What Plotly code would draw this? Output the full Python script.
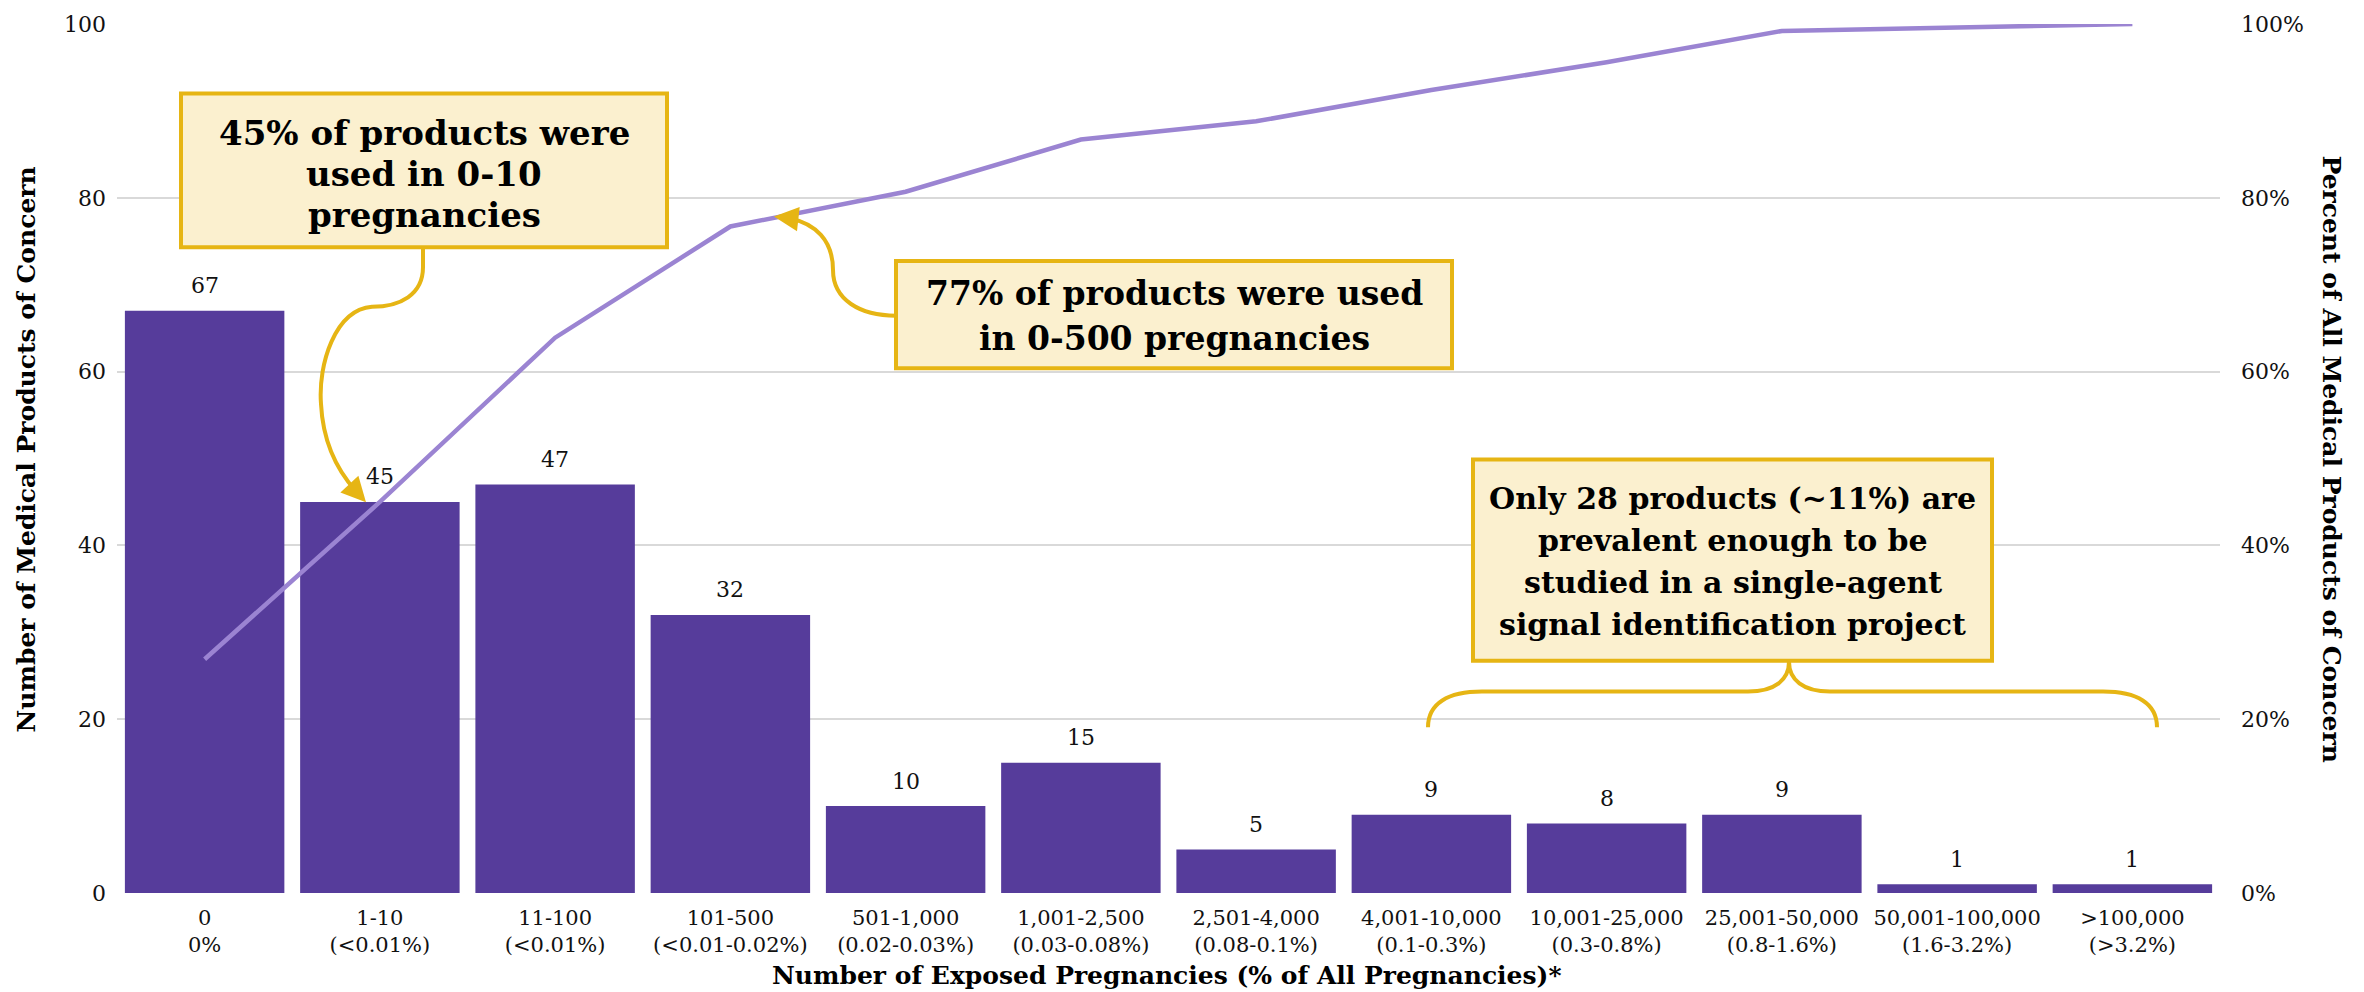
import plotly.graph_objects as go

# ---------------- data ----------------
categories = ["0<br>0%", "1-10<br>(<0.01%)", "11-100<br>(<0.01%)", "101-500<br>(<0.01-0.02%)",
              "501-1,000<br>(0.02-0.03%)", "1,001-2,500<br>(0.03-0.08%)", "2,501-4,000<br>(0.08-0.1%)",
              "4,001-10,000<br>(0.1-0.3%)", "10,001-25,000<br>(0.3-0.8%)", "25,001-50,000<br>(0.8-1.6%)",
              "50,001-100,000<br>(1.6-3.2%)", ">100,000<br>(>3.2%)"]
counts = [67, 45, 47, 32, 10, 15, 5, 9, 8, 9, 1, 1]
cumulative_pct = [26.9, 45.0, 63.9, 76.7, 80.7, 86.7, 88.8, 92.4, 95.6, 99.2, 99.6, 100.0]
y_ticks = [0, 20, 40, 60, 80, 100]
y_tick_labels = ["0", "20", "40", "60", "80", "100"]
y2_tick_labels = ["0%", "20%", "40%", "60%", "80%", "100%"]

# ---------------- style ----------------
W, H = 2364, 992
L, R, T, B = 117, 144, 17, 99
PW, PH = W - L - R, H - T - B
BAR = "#563C9B"
LINE = "#9B84D2"
GOLD = "#E6B514"
FILL = "#FBF0CF"
GRID = "#D9D9D9"
SERIF = "DejaVu Serif"
TXT = "#111111"


def px(X):
    return (X - L) / PW


def py(Y):
    return (H - B - Y) / PH


fig = go.Figure()
fig.add_trace(go.Bar(x=categories, y=counts, marker=dict(color=BAR, line=dict(width=0)),
                     hoverinfo="skip", showlegend=False))
fig.add_trace(go.Scatter(x=categories, y=cumulative_pct, yaxis="y2", mode="lines",
                         line=dict(color=LINE, width=4.5), hoverinfo="skip", showlegend=False))

annotations = []
# data labels
for c, v in zip(categories, counts):
    annotations.append(dict(x=c, y=v, xref="x", yref="y", text=str(v), showarrow=False,
                            yshift=25, font=dict(family=SERIF, size=22, color=TXT)))

shapes = []
# boxes
boxes = [
    ((181, 87, 667, 242), ["45% of products were", "used in 0-10", "pregnancies"], [127, 168, 210], 34),
    ((896, 256, 1452, 364), ["77% of products were used", "in 0-500 pregnancies"], [289, 334], 33),
    ((1473, 456, 1992, 659), ["Only 28 products (~11%) are", "prevalent enough to be",
                               "studied in a single-agent", "signal identification project"],
     [495, 538, 580, 622], 30),
]
for (x0, y0, x1, y1), lines, ys, fs in boxes:
    shapes.append(dict(type="rect", xref="paper", yref="paper", x0=px(x0), x1=px(x1),
                       y0=py(y1), y1=py(y0), fillcolor=FILL, line=dict(color=GOLD, width=4),
                       layer="above"))
    cx = (x0 + x1) / 2
    for t, yy in zip(lines, ys):
        annotations.append(dict(x=px(cx), y=py(yy), xref="paper", yref="paper", text="<b>" + t + "</b>",
                                showarrow=False, xanchor="center", yanchor="middle",
                                font=dict(family=SERIF, size=fs, color="#000000")))


def path(points_cmds):
    out = []
    for cmd, pts in points_cmds:
        coords = " ".join(f"{px(a):.5f},{py(b):.5f}" for a, b in pts)
        out.append(f"{cmd} {coords}")
    return " ".join(out)


# connector 1
p1 = path([("M", [(423, 242)]), ("L", [(423, 262)]),
           ("C", [(423, 290), (400, 302), (372, 302)]),
           ("C", [(335, 305), (318, 360), (321, 400)]),
           ("C", [(323, 440), (338, 468), (356, 488)])])
# connector 2
p2 = path([("M", [(896, 311)]),
           ("C", [(860, 311), (833, 295), (833, 265)]),
           ("C", [(833, 235), (815, 218), (790, 213)])])
# brace
p3 = path([("M", [(1428, 726)]),
           ("C", [(1428, 702), (1448, 690), (1482, 690)]),
           ("L", [(1748, 690)]),
           ("C", [(1775, 690), (1789, 678), (1789, 660)]),
           ("C", [(1789, 678), (1803, 690), (1830, 690)]),
           ("L", [(2103, 690)]),
           ("C", [(2137, 690), (2157, 702), (2157, 726)])])
for p in (p1, p2, p3):
    shapes.append(dict(type="path", xref="paper", yref="paper", path=p,
                       line=dict(color=GOLD, width=4), layer="above"))

# arrowheads
annotations.append(dict(x=px(366), y=py(499), xref="paper", yref="paper", text="", showarrow=True,
                        ax=-12, ay=-13, arrowhead=2, arrowsize=1.4, arrowwidth=3.5, arrowcolor=GOLD))
annotations.append(dict(x=px(774), y=py(211), xref="paper", yref="paper", text="", showarrow=True,
                        ax=18, ay=2, arrowhead=2, arrowsize=1.4, arrowwidth=3.5, arrowcolor=GOLD))

# axis titles
annotations.append(dict(x=px(27), y=py(446), xref="paper", yref="paper", textangle=-90,
                        xanchor="center", yanchor="middle",
                        text="<b>Number of Medical Products of Concern</b>", showarrow=False,
                        font=dict(family=SERIF, size=25, color="#000000")))
annotations.append(dict(x=px(2331), y=py(455), xref="paper", yref="paper", textangle=90,
                        xanchor="center", yanchor="middle",
                        text="<b>Percent of All Medical Products of Concern</b>", showarrow=False,
                        font=dict(family=SERIF, size=25, color="#000000")))
annotations.append(dict(x=px(1167), y=py(976), xref="paper", yref="paper",
                        xanchor="center", yanchor="middle",
                        text="<b>Number of Exposed Pregnancies (% of All Pregnancies)*</b>", showarrow=False,
                        font=dict(family=SERIF, size=25, color="#000000")))

fig.update_layout(
    width=W, height=H, autosize=False,
    margin=dict(l=L, r=R, t=T, b=B, pad=0),
    paper_bgcolor="white", plot_bgcolor="white",
    bargap=0.09,
    font=dict(family=SERIF, size=20, color=TXT),
    xaxis=dict(type="category", showgrid=False, showline=False, zeroline=False, ticks="",
               ticklabelstandoff=10,
               tickfont=dict(family=SERIF, size=21, color=TXT), fixedrange=True),
    yaxis=dict(range=[0, 100], tickmode="array", tickvals=y_ticks, ticktext=y_tick_labels,
               showgrid=True, gridcolor=GRID, gridwidth=2,
               zeroline=False, showline=False, ticks="", ticklabelstandoff=10,
               tickfont=dict(family=SERIF, size=22, color=TXT)),
    yaxis2=dict(range=[0, 100], tickmode="array", tickvals=y_ticks, ticktext=y2_tick_labels,
                overlaying="y", side="right",
                showgrid=False, zeroline=False, showline=False, ticks="", ticklabelstandoff=20,
                tickfont=dict(family=SERIF, size=22, color=TXT)),
    annotations=annotations,
    shapes=shapes,
)

fig.write_html("out.html", config={"displayModeBar": False},
               post_script="document.body.style.margin='0px';document.body.style.overflow='hidden';")
